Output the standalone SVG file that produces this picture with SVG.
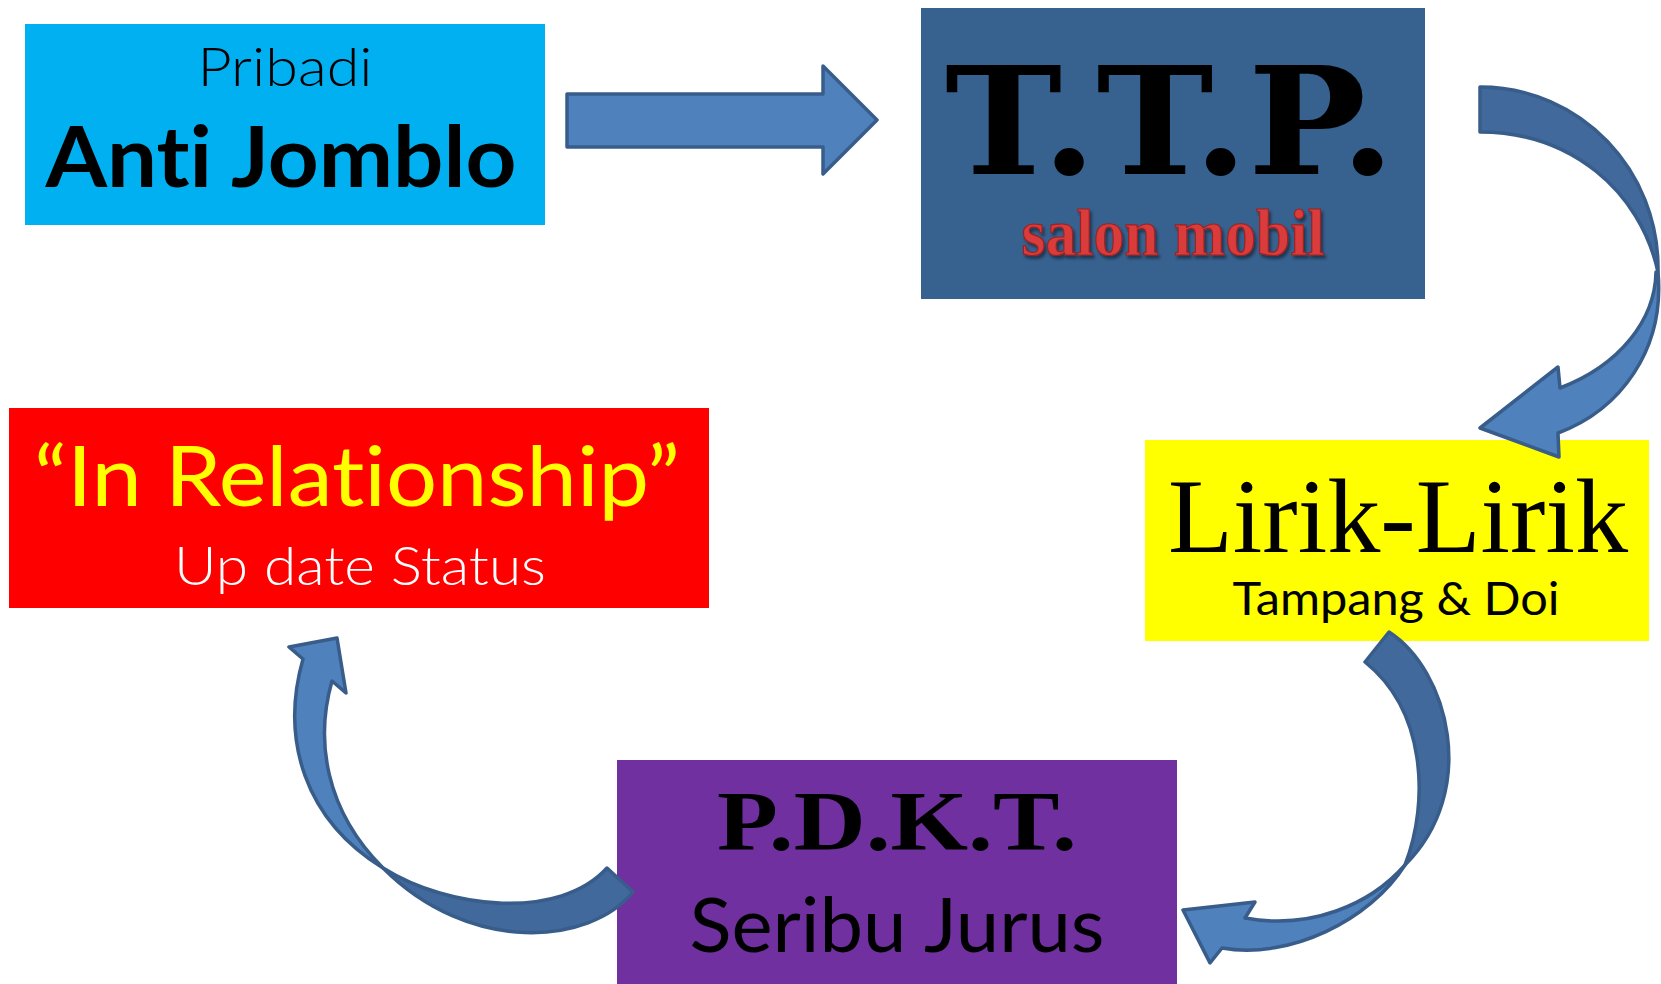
<svg xmlns="http://www.w3.org/2000/svg" width="1661" height="984" viewBox="0 0 1661 984">
<style>
.arrowL{fill:#4F81BD;stroke:#385D8A;stroke-width:3.5;stroke-linejoin:round}
.arrowD{fill:#41699B;stroke:#385D8A;stroke-width:3.5;stroke-linejoin:round}
.cal{font-family:Lato,"Open Sans","Liberation Sans",sans-serif;font-variant-ligatures:none}
.geo{font-family:Lato,"Liberation Sans",sans-serif;font-weight:300;font-variant-ligatures:none}
</style>
<defs>
<filter id="sh" x="-10%" y="-20%" width="120%" height="150%">
<feDropShadow dx="2" dy="3" stdDeviation="1.5" flood-color="#000" flood-opacity="0.45"/>
</filter>
</defs>
<rect width="1661" height="984" fill="#FFFFFF"/>

<g id="node-anti-jomblo">
<rect x="25" y="24" width="520" height="201" fill="#00B0F0"/>
<text class="geo" x="285" y="86" font-size="54" text-anchor="middle" textLength="175" lengthAdjust="spacingAndGlyphs" fill="#000">Pribadi</text>
<text class="cal" x="281" y="187" font-size="84" font-weight="bold" text-anchor="middle" textLength="471" lengthAdjust="spacingAndGlyphs" fill="#000">Anti Jomblo</text>
</g>

<g id="node-ttp">
<rect x="921" y="8" width="504" height="291" fill="#37618F"/>
<text x="1170" y="174" font-family="'DejaVu Serif','Liberation Serif',serif" font-weight="bold" font-size="150" text-anchor="middle" textLength="450" lengthAdjust="spacingAndGlyphs" fill="#000">T.T.P.</text>
<text x="1173" y="255" font-family="'Liberation Serif','DejaVu Serif',serif" font-weight="bold" font-size="66" text-anchor="middle" textLength="303" lengthAdjust="spacingAndGlyphs" fill="#DA3A3A" stroke="#9A2222" stroke-width="1.2" filter="url(#sh)">salon mobil</text>
</g>

<g id="node-lirik">
<rect x="1145" y="440" width="504" height="201" fill="#FFFF00"/>
<text x="1398" y="552" font-family="'Liberation Serif','DejaVu Serif',serif" font-size="106" text-anchor="middle" textLength="460" lengthAdjust="spacingAndGlyphs" fill="#000">Lirik-Lirik</text>
<text class="cal" x="1396" y="615" font-size="46" text-anchor="middle" textLength="327" lengthAdjust="spacingAndGlyphs" fill="#000">Tampang &amp; Doi</text>
</g>

<g id="node-pdkt">
<rect x="617" y="760" width="560" height="224" fill="#7030A0"/>
<text x="897" y="850" font-family="'Liberation Serif','DejaVu Serif',serif" font-weight="bold" font-size="84" text-anchor="middle" textLength="360" lengthAdjust="spacingAndGlyphs" fill="#000">P.D.K.T.</text>
<text class="cal" x="897" y="952" font-size="75" text-anchor="middle" textLength="415" lengthAdjust="spacingAndGlyphs" fill="#000">Seribu Jurus</text>
</g>

<g id="node-relationship">
<rect x="9" y="408" width="700" height="200" fill="#FF0000"/>
<text class="cal" x="357" y="506" font-size="83" text-anchor="middle" textLength="646" lengthAdjust="spacingAndGlyphs" fill="#FFFF00">“In Relationship”</text>
<text class="geo" x="360" y="585" font-size="53" text-anchor="middle" textLength="372" lengthAdjust="spacingAndGlyphs" fill="#FFFFFF">Up date Status</text>
</g>

<g id="connectors">
<polygon class="arrowL" points="567,94 823,94 823,66 877,120 823,174 823,147 567,147"/>

<path class="arrowD" d="M1480,87 C1580,87 1660,170 1658,272 C1640,190 1570,132 1480,132 Z"/>
<path class="arrowL" d="M1658,272 C1665,350 1620,410 1558,433 L1559,457 L1480,428 L1558,367 L1560,388 C1620,365 1655,320 1656,272 Z"/>

<path class="arrowD" d="M1389,632 C1448,670 1480,790 1405,865 C1430,800 1425,710 1365,662 Z"/>
<path class="arrowL" d="M1405,865 C1370,920 1290,960 1222,948 L1210,963 L1183,910 L1255,902 L1245,918 C1310,930 1370,905 1405,865 Z"/>

<path class="arrowD" d="M383,868 C450,910 560,920 607,868 L633,892 C590,945 470,955 383,868 Z"/>
<path class="arrowL" d="M383,868 C305,820 280,740 303,659 L289,647 L337,638 L346,693 L332,681 C315,740 325,810 383,868 Z"/>
</g>
</svg>
